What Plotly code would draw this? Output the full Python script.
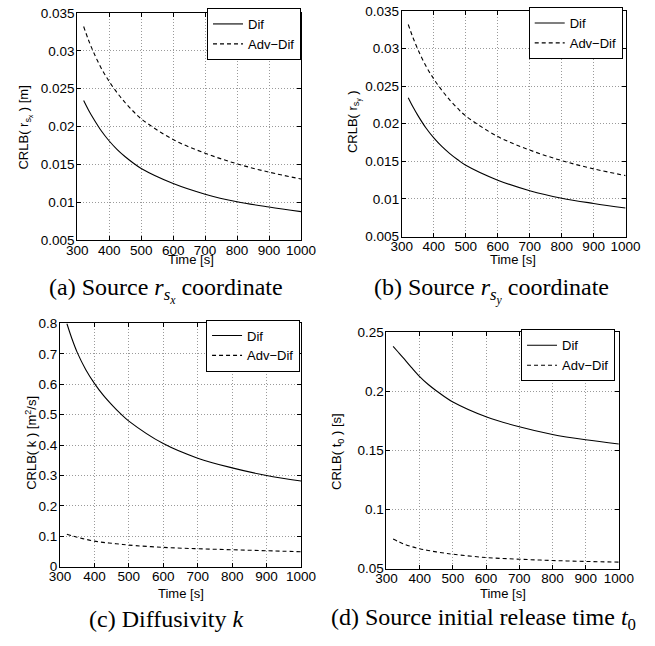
import plotly.graph_objects as go

W, H = 655, 646

# time samples (s)
t = [320, 335, 350, 375, 400, 425, 450, 475, 500, 600, 700, 800, 900, 1000]

# (a) / (b) source coordinate bounds [m]
rsx_dif = [0.02345, 0.02221, 0.02111, 0.01946, 0.01811, 0.01698, 0.01603, 0.01521, 0.01448,
           0.0125, 0.0111, 0.0101, 0.0094, 0.0088]
rsx_adv = [0.0332, 0.03143, 0.0299, 0.0277, 0.02595, 0.02445, 0.02315, 0.02203, 0.02103,
           0.0183, 0.0165, 0.0151, 0.0140, 0.0131]
rsy_dif = [0.02345, 0.02221, 0.02111, 0.01946, 0.01811, 0.01698, 0.01603, 0.01521, 0.01448,
           0.0125, 0.0111, 0.0101, 0.0094, 0.0088]
rsy_adv = [0.0332, 0.03143, 0.0299, 0.0277, 0.02595, 0.02445, 0.02315, 0.02203, 0.02103,
           0.0183, 0.0165, 0.0151, 0.0140, 0.0131]

# (c) diffusivity bound [m^2/s]
k_dif = [0.800, 0.749, 0.705, 0.648, 0.603, 0.565, 0.533, 0.504, 0.479,
         0.405, 0.357, 0.325, 0.300, 0.282]
k_adv = [0.1065, 0.1015, 0.097, 0.090, 0.084, 0.080, 0.077, 0.074, 0.071,
         0.0635, 0.059, 0.0557, 0.0525, 0.0493]

# (d) release time bound [s]
t0_dif = [0.238, 0.2333, 0.2285, 0.2203, 0.2125, 0.2060, 0.2005, 0.1955, 0.1910,
          0.1785, 0.1700, 0.1635, 0.1590, 0.1555]
t0_adv = [0.0751, 0.0730, 0.0711, 0.0687, 0.0668, 0.0654, 0.0642, 0.0631, 0.0622,
          0.0594, 0.0580, 0.0569, 0.0561, 0.0555]

x_ticks = [300, 400, 500, 600, 700, 800, 900, 1000]
y_ticks_r = [0.005, 0.01, 0.015, 0.02, 0.025, 0.03, 0.035]
y_text_r = ["0.005", "0.01", "0.015", "0.02", "0.025", "0.03", "0.035"]
y_ticks_k = [0, 0.1, 0.2, 0.3, 0.4, 0.5, 0.6, 0.7, 0.8]
y_text_k = ["0", "0.1", "0.2", "0.3", "0.4", "0.5", "0.6", "0.7", "0.8"]
y_ticks_t0 = [0.05, 0.1, 0.15, 0.2, 0.25]
y_text_t0 = ["0.05", "0.1", "0.15", "0.2", "0.25"]

SANS = "Liberation Sans, Arial, sans-serif"
SERIF = "Liberation Serif, Times New Roman, serif"


def px(x, y):
    return x / W, 1 - y / H


# panel boxes in pixels: left, right, top, bottom
panels = [
    dict(box=(69, 302, 6, 239), dif=rsx_dif, adv=rsx_adv, yt=y_ticks_r, ytext=y_text_r, yr=[0.005, 0.035],
         legend=(302, 1), ytitle="CRLB( r<sub>s<sub>x</sub></sub> ) [m]", ypos=(15, 123), xpos=(187, 258),
         caption="(a) Source <i>r</i><sub><i>s</i><sub><i>x</i></sub></sub> coordinate", cpos=(161, 290)),
    dict(box=(407, 640, 4, 235), dif=rsy_dif, adv=rsy_adv, yt=y_ticks_r, ytext=y_text_r, yr=[0.005, 0.035],
         legend=(637, 0), ytitle="CRLB( r<sub>s<sub>y</sub></sub> )", ypos=(357, 117), xpos=(523, 258),
         caption="(b) Source <i>r</i><sub><i>s</i><sub><i>y</i></sub></sub> coordinate", cpos=(500, 290)),
    dict(box=(51, 302, 324, 573), dif=k_dif, adv=k_adv, yt=y_ticks_k, ytext=y_text_k, yr=[0, 0.8],
         legend=(301, 320), ytitle="CRLB( k ) [m<sup>2</sup>/s]", ypos=(20, 446), xpos=(177, 600),
         caption="(c) Diffusivity <i>k</i>", cpos=(162, 627)),
    dict(box=(391, 633, 333, 575), dif=t0_dif, adv=t0_adv, yt=y_ticks_t0, ytext=y_text_t0, yr=[0.05, 0.25],
         legend=(629, 330), ytitle="CRLB( t<sub>0</sub> ) [s]", ypos=(340, 455), xpos=(512, 600),
         caption="(d) Source initial release time <i>t</i><sub>0</sub>", cpos=(492, 627)),
]

fig = go.Figure()
annotations = []
layout = {}

axis_common = dict(
    showline=True, linecolor="black", linewidth=1, mirror="ticks",
    ticks="inside", ticklen=4, tickcolor="black",
    showgrid=True, gridcolor="#9a9a9a", griddash="1px,2px", gridwidth=1,
    zeroline=False, tickfont=dict(family=SANS, size=13.5, color="black"),
)

for i, p in enumerate(panels):
    n = "" if i == 0 else str(i + 1)
    lg = "legend" if i == 0 else f"legend{i + 1}"
    fig.add_trace(go.Scatter(x=t, y=p["dif"], mode="lines", name="Dif", xaxis=f"x{n}", yaxis=f"y{n}",
                             line=dict(color="black", width=1.1, shape="spline"), legend=lg))
    fig.add_trace(go.Scatter(x=t, y=p["adv"], mode="lines", name="Adv\u2212Dif", xaxis=f"x{n}", yaxis=f"y{n}",
                             line=dict(color="black", width=1.1, dash="4px,3px", shape="spline"), legend=lg))

    x0, x1, y0, y1 = p["box"]
    layout[f"xaxis{n}"] = dict(axis_common, domain=[x0 / W, x1 / W], anchor=f"y{n}", range=[300, 1000],
                               tickvals=x_ticks, ticklabelstandoff=-3)
    layout[f"yaxis{n}"] = dict(axis_common, domain=[1 - y1 / H, 1 - y0 / H], anchor=f"x{n}", range=p["yr"],
                               tickvals=p["yt"], ticktext=p["ytext"], ticklabelstandoff=-1)

    lx, ly = px(*p["legend"])
    layout[lg] = dict(x=lx, y=ly, xanchor="right", yanchor="top", xref="paper", yref="paper",
                      bgcolor="white", bordercolor="black", borderwidth=1,
                      font=dict(family=SANS, size=13, color="black"), itemwidth=30, tracegroupgap=0)

    ax, ay = px(*p["xpos"])
    annotations.append(dict(x=ax, y=ay, xref="paper", yref="paper", text="Time [s]", showarrow=False,
                            xanchor="center", yanchor="middle",
                            font=dict(family=SANS, size=13, color="black")))
    ax, ay = px(*p["ypos"])
    annotations.append(dict(x=ax, y=ay, xref="paper", yref="paper", text=p["ytitle"], showarrow=False,
                            textangle=-90, xanchor="center", yanchor="middle",
                            font=dict(family=SANS, size=13, color="black")))
    ax, ay = px(*p["cpos"])
    annotations.append(dict(x=ax, y=ay, xref="paper", yref="paper", text=p["caption"], showarrow=False,
                            xanchor="center", yanchor="middle",
                            font=dict(family=SERIF, size=24, color="black")))

fig.update_layout(
    width=W, height=H,
    margin=dict(l=0, r=0, t=0, b=0),
    paper_bgcolor="white", plot_bgcolor="white",
    annotations=annotations,
    **layout,
)

fig.write_html("out.html", config={"displayModeBar": False},
               post_script="document.body.style.margin='0';")
